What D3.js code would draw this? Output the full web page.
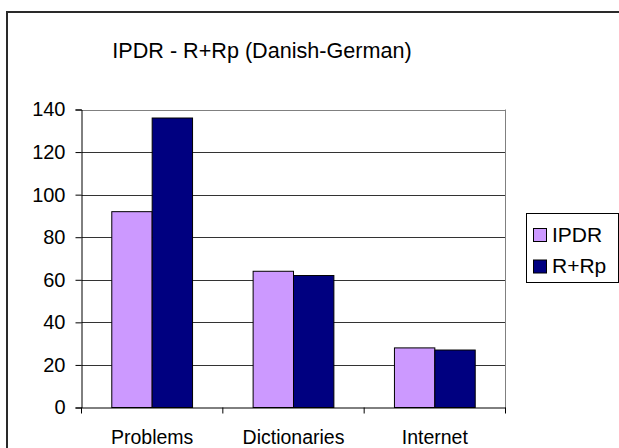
<!DOCTYPE html>
<html>
<head>
<meta charset="utf-8">
<script src="https://cdn.jsdelivr.net/npm/d3@7"></script>
<style>
  html, body { margin: 0; padding: 0; background: #fff; }
  svg { display: block; font-family: "Liberation Sans", Arial, sans-serif; }
</style>
</head>
<body>
<svg id="chart" width="619" height="448"></svg>
<script>
const categories = ["Problems", "Dictionaries", "Internet"];
const seriesNames = ["IPDR", "R+Rp"];
const ipdrValues = [92, 64, 28];
const rrpValues = [136, 62, 27];
const yTicks = [0, 20, 40, 60, 80, 100, 120, 140];
const colors = ["#CC99FF", "#000080"];
const titleText = "IPDR - R+Rp (Danish-German)";

const svg = d3.select("#chart");

// outer chart border (extends past the crop)
svg.append("rect").attr("x", 7).attr("y", 12).attr("width", 700).attr("height", 600)
  .attr("fill", "#fff").attr("stroke", "#2a2a2a").attr("stroke-width", 2);

const plot = { left: 81.5, right: 505.5, top: 109.5, bottom: 407.5 };

const x0 = d3.scaleBand().domain(categories).range([plot.left, plot.right]).padding(0);
const x1 = d3.scaleBand().domain(seriesNames).range([0, x0.bandwidth()]).paddingInner(0).paddingOuter(0.75);
const y = d3.scaleLinear().domain([0, 140]).range([plot.bottom, plot.top]);

// gridlines
svg.append("g").selectAll("line").data(yTicks.filter(d => d > 0)).join("line")
  .attr("x1", plot.left).attr("x2", plot.right)
  .attr("y1", d => Math.round(y(d)) + 0.5).attr("y2", d => Math.round(y(d)) + 0.5)
  .attr("stroke", d => d === 140 ? "#808080" : "#333").attr("stroke-width", 1);

// plot area right border
svg.append("line").attr("x1", plot.right).attr("x2", plot.right)
  .attr("y1", plot.top).attr("y2", plot.bottom).attr("stroke", "#808080");

// bars
const data = categories.map((c, i) => ({ cat: c, vals: [ipdrValues[i], rrpValues[i]] }));
const groups = svg.append("g").selectAll("g").data(data).join("g")
  .attr("transform", d => `translate(${x0(d.cat)},0)`);
groups.selectAll("rect").data(d => d.vals.map((v, j) => ({ s: seriesNames[j], v, j }))).join("rect")
  .attr("x", d => x1(d.s))
  .attr("y", d => y(d.v))
  .attr("width", x1.bandwidth())
  .attr("height", d => y(0) - y(d.v))
  .attr("fill", d => colors[d.j])
  .attr("stroke", "#000").attr("stroke-width", 1);

// y axis
const yAxis = d3.axisLeft(y).tickValues(yTicks).tickSize(6).tickPadding(10).tickFormat(d3.format("d"));
const gy = svg.append("g").attr("transform", `translate(${plot.left},0)`).call(yAxis);
gy.select(".domain").attr("stroke", "#000");
gy.selectAll(".tick line").attr("stroke", "#000");
gy.selectAll(".tick text").attr("font-size", 20).attr("fill", "#000")
  .attr("font-family", "Liberation Sans, Arial, sans-serif");

// x axis
const xAxis = d3.axisBottom(x0).tickSize(0).tickFormat("");
const gx = svg.append("g").attr("transform", `translate(0,${plot.bottom})`).call(xAxis);
gx.select(".domain").attr("stroke", "#000");
gx.selectAll(".tick").remove();
const boundaries = categories.map(c => x0(c)).concat([plot.right]);
gx.selectAll("line.bt").data(boundaries).join("line").attr("class", "bt")
  .attr("x1", d => d).attr("x2", d => d).attr("y1", 0).attr("y2", 6).attr("stroke", "#000");
svg.append("g").selectAll("text").data(categories).join("text")
  .attr("x", d => x0(d) + x0.bandwidth() / 2).attr("y", 444)
  .attr("text-anchor", "middle").attr("font-size", 19.5).attr("fill", "#000")
  .text(d => d);

// title
svg.append("text").attr("x", 262).attr("y", 57.5).attr("text-anchor", "middle")
  .attr("font-size", 21.6).attr("fill", "#000").text(titleText);

// legend
const lg = svg.append("g");
lg.append("rect").attr("x", 526.5).attr("y", 213.5).attr("width", 92).attr("height", 69)
  .attr("fill", "#fff").attr("stroke", "#000");
const items = lg.selectAll("g").data(seriesNames).join("g")
  .attr("transform", (d, i) => `translate(533, ${228 + i * 31.5})`);
items.append("rect").attr("x", 0.5).attr("y", 0.5).attr("width", 13).attr("height", 13)
  .attr("fill", (d, i) => colors[i]).attr("stroke", "#000");
items.append("text").attr("x", 19).attr("y", 13.5).attr("font-size", 21).attr("fill", "#000")
  .text(d => d);
</script>
</body>
</html>
